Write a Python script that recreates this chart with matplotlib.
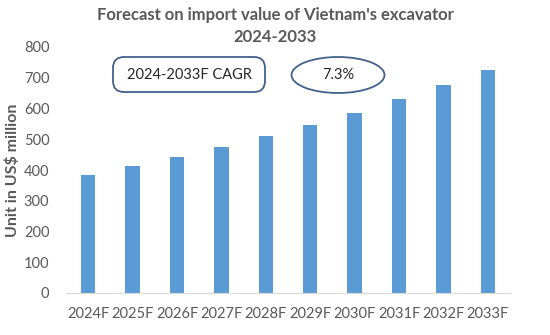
import matplotlib.pyplot as plt
from matplotlib.patches import FancyBboxPatch, Ellipse

years = ['2024F', '2025F', '2026F', '2027F', '2028F',
         '2029F', '2030F', '2031F', '2032F', '2033F']
values = [383, 413, 443, 475, 510, 546, 585, 631, 675, 725]
cagr_label = '2024-2033F CAGR'
cagr_value = '7.3%'

plt.rcParams['font.family'] = ['Lato', 'DejaVu Sans']
grey = '#595959'

fig = plt.figure(figsize=(5.5, 3.35), dpi=100)
ax = fig.add_axes([66 / 550, 1 - 293 / 335, 444 / 550, 246 / 335])

ax.bar(years, values, width=0.32, color='#5B9BD5')
ax.set_ylim(0, 800)
ax.set_xlim(-0.5, len(years) - 0.5)
ax.set_yticks(range(0, 801, 100))

for s in ['top', 'right', 'left']:
    ax.spines[s].set_visible(False)
ax.spines['bottom'].set_color('#d9d9d9')
ax.tick_params(length=0, colors=grey, labelsize=10.5)
ax.tick_params(axis='x', pad=10)
ax.tick_params(axis='y', pad=12)

ax.set_ylabel('Unit in US$ million', fontsize=11.5, fontweight='bold', color=grey, labelpad=3)
fig.text(0.5, 1 - 7 / 335, "Forecast on import value of Vietnam's excavator\n2024-2033",
         ha='center', va='top', fontsize=12, fontweight='bold', color=grey, linespacing=1.5)

# CAGR annotations
edge = '#41618a'
box = FancyBboxPatch((113 / 550, 1 - 92 / 335), 152 / 550, 35 / 335,
                     boxstyle='round,pad=0,rounding_size=0.02', transform=fig.transFigure,
                     fill=False, edgecolor=edge, linewidth=1.3, mutation_aspect=550 / 335)
fig.patches.append(box)
fig.text(189 / 550, 1 - 75 / 335, cagr_label, ha='center', va='center', fontsize=10.5, color='#262626')

ell = Ellipse((338 / 550, 1 - 75 / 335), 93 / 550, 36 / 335, transform=fig.transFigure,
              fill=False, edgecolor=edge, linewidth=1.3)
fig.patches.append(ell)
fig.text(338 / 550, 1 - 75 / 335, cagr_value, ha='center', va='center', fontsize=10.5, color='#262626')

fig.savefig('out.png', dpi=100)
